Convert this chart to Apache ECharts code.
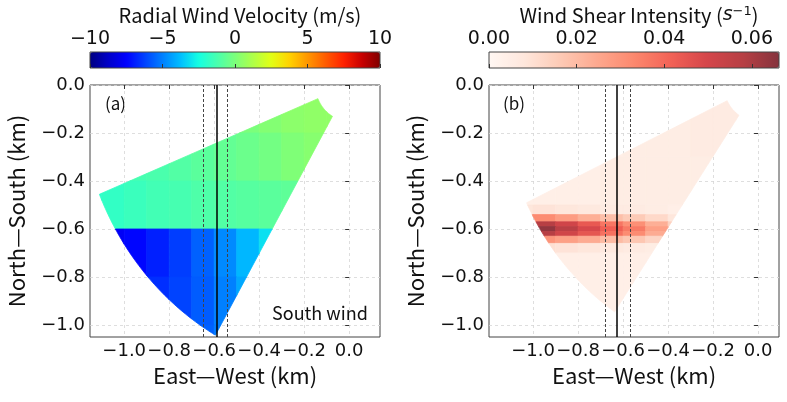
<!DOCTYPE html>
<html>
<head>
<meta charset="utf-8">
<script src="https://cdn.jsdelivr.net/npm/echarts@6/dist/echarts.min.js"></script>
<style>
html,body{margin:0;padding:0;background:#fff;}
#chart{width:787px;height:402px;}
</style>
</head>
<body>
<div id="chart"></div>
<script>
// radar scan sectors (km, degrees)
var sectorA = {az0: 202.3, az1: 240.3, r0: 0.15, r1: 1.2};
var sectorB = {az0: 205.5, az1: 236.0, r0: 0.152, r1: 1.14};

// cell edges of the value tables
var xEdges = [-1.2, -1.1, -1.0, -0.9, -0.8, -0.7, -0.6, -0.5, -0.4, -0.3, -0.2, -0.1, 0.0];
var yEdgesA = [0, -0.2, -0.4, -0.6, -0.8, -1.0, -1.2];
var yEdgesB = [0, -0.3, -0.5, -0.54, -0.57, -0.59, -0.61, -0.63, -0.66, -0.7, -1.2];

// radial wind velocity (m/s), one row per y band, one column per x band
var velocityA = [
    [null, null, null, null, null, null, -0.2, 0.0, 0.2, 0.4, 0.5, 0.5],
    [null, null, -1.3, -1.2, -1.0, -0.8, -0.6, -0.4, -0.2, 0.1, 0.3, null],
    [-1.9, -1.8, -1.6, -1.4, -1.3, -1.1, -1.0, -0.9, -0.8, -0.7, null, null],
    [null, -7.7, -7.4, -6.9, -6.3, -5.6, -4.8, -3.9, -3.1, null, null, null],
    [null, null, -6.9, -6.6, -6.2, -5.7, -5.0, -4.2, null, null, null, null],
    [null, null, null, null, null, -5.6, -5.1, null, null, null, null, null]
];

// wind shear intensity (1/s)
var shearB = [
    [null, null, null, null, null, 0.004, 0.005, 0.005, 0.005, 0.006, 0.006, 0.006],
    [null, 0.004, 0.004, 0.004, 0.004, 0.005, 0.005, 0.005, 0.005, 0.005, null, null],
    [null, 0.008, 0.009, 0.008, 0.007, 0.006, 0.006, 0.005, 0.004, null, null, null],
    [null, 0.028, 0.032, 0.028, 0.023, 0.019, 0.016, 0.012, 0.008, null, null, null],
    [null, 0.050, 0.058, 0.051, 0.044, 0.037, 0.031, 0.023, 0.014, null, null, null],
    [null, 0.055, 0.064, 0.057, 0.049, 0.042, 0.036, 0.027, 0.016, null, null, null],
    [null, null, 0.058, 0.051, 0.045, 0.038, 0.032, 0.024, 0.014, null, null, null],
    [null, null, 0.030, 0.027, 0.024, 0.020, 0.017, 0.013, 0.008, null, null, null],
    [null, null, 0.010, 0.009, 0.008, 0.007, 0.006, 0.005, null, null, null, null],
    [null, null, 0.004, 0.004, 0.004, 0.004, 0.004, 0.004, null, null, null, null]
];

// vertical guide lines (km): dashed, solid, dashed
var guideA = [-0.647, -0.595, -0.539];
var guideB = [-0.681, -0.627, -0.569];

var kmTicksX = [-1.0, -0.8, -0.6, -0.4, -0.2, 0.0];
var kmTicksY = [0.0, -0.2, -0.4, -0.6, -0.8, -1.0];
var velTicks = [-10, -5, 0, 5, 10];
var shearTicks = [0, 0.02, 0.04, 0.06];

var jet = ['#000080', '#0000c8', '#0000ff', '#0040ff', '#0080ff', '#00bfff', '#15ffe2', '#48ffaf',
    '#7bff7b', '#afff48', '#e2ff15', '#ffd200', '#ff9700', '#ff5c00', '#ff2100', '#c80000', '#800000'];
// Reds at alpha 0.8 on white
var reds = ['#fff7f3', '#fee6db', '#fdc9b4', '#fda88e', '#fc886e', '#f26256', '#d5464a', '#b73f44', '#85333d'];

var chart = echarts.init(document.getElementById('chart'));

function fanPolygon(s) {
    var pts = [], n = 60, i, a;
    for (i = 0; i <= n; i++) {
        a = (s.az0 + (s.az1 - s.az0) * i / n) * Math.PI / 180;
        pts.push([s.r1 * Math.cos(a), s.r1 * Math.sin(a)]);
    }
    for (i = n; i >= 0; i--) {
        a = (s.az0 + (s.az1 - s.az0) * i / n) * Math.PI / 180;
        pts.push([s.r0 * Math.cos(a), s.r0 * Math.sin(a)]);
    }
    return pts;
}

// one Sutherland-Hodgman pass against an axis-aligned half plane
function clipHalf(poly, k, v, keepAbove) {
    var out = [];
    for (var i = 0; i < poly.length; i++) {
        var a = poly[i], b = poly[(i + 1) % poly.length];
        var ina = keepAbove ? a[k] >= v : a[k] <= v;
        var inb = keepAbove ? b[k] >= v : b[k] <= v;
        if (ina) out.push(a);
        if (ina !== inb) {
            var t = (v - a[k]) / (b[k] - a[k]);
            out.push([a[0] + t * (b[0] - a[0]), a[1] + t * (b[1] - a[1])]);
        }
    }
    return out;
}

function clipBox(poly, x0, x1, y0, y1) {
    poly = clipHalf(poly, 0, Math.min(x0, x1), true);
    if (poly.length) poly = clipHalf(poly, 0, Math.max(x0, x1), false);
    if (poly.length) poly = clipHalf(poly, 1, Math.min(y0, y1), true);
    if (poly.length) poly = clipHalf(poly, 1, Math.max(y0, y1), false);
    return poly;
}

function cells(table, yEdges) {
    var out = [];
    for (var r = 0; r < table.length; r++) {
        for (var c = 0; c < table[r].length; c++) {
            if (table[r][c] == null) continue;
            out.push([xEdges[c], xEdges[c + 1], yEdges[r + 1], yEdges[r], table[r][c]]);
        }
    }
    return out;
}

function cellRenderer(fan) {
    return function (params, api) {
        var poly = clipBox(fan, api.value(0), api.value(1), api.value(2), api.value(3));
        if (poly.length < 3) return;
        var pts = poly.map(function (p) { return api.coord(p); });
        var col = api.visual('color');
        return {type: 'polygon', shape: {points: pts}, style: {fill: col, stroke: col, lineWidth: 0.8}};
    };
}

function kmLabel(v) {
    if (Math.abs(v) < 1e-9) return '0.0';
    return (v < 0 ? '\u2212' : '') + Math.abs(v).toFixed(1);
}

var tickFont = {fontFamily: 'DejaVu Sans', fontSize: 18, color: '#111',
    showMinLabel: true, showMaxLabel: true, hideOverlap: false};
var nameFont = {fontFamily: 'Noto Sans CJK SC', fontSize: 22, color: '#111'};

function kmAxisX(grid, min, max) {
    return {
        type: 'value', gridIndex: grid, min: min, max: max,
        splitNumber: 6, minInterval: 0.2, maxInterval: 0.2,
        name: 'East\u2014West (km)', nameLocation: 'middle', nameGap: 15, nameTextStyle: nameFont,
        axisLine: {show: false},
        axisTick: {show: true, length: 4, customValues: kmTicksX, lineStyle: {color: '#333'}},
        axisLabel: Object.assign({margin: 5, customValues: kmTicksX, formatter: kmLabel}, tickFont),
        splitLine: {show: true, lineStyle: {color: '#d6d6d6', width: 0.8, type: [3, 3]}}
    };
}

function kmAxisY(grid) {
    return {
        type: 'value', gridIndex: grid, min: -1.05, max: 0.0,
        splitNumber: 5, minInterval: 0.2, maxInterval: 0.2,
        name: 'North\u2014South (km)', nameLocation: 'middle', nameGap: 62, nameTextStyle: nameFont,
        axisLine: {show: false},
        axisTick: {show: true, length: 4, customValues: kmTicksY, lineStyle: {color: '#333'}},
        axisLabel: Object.assign({margin: 5, customValues: kmTicksY, formatter: kmLabel}, tickFont),
        splitLine: {show: true, lineStyle: {color: '#d6d6d6', width: 0.8, type: [3, 3]}}
    };
}

function guideLines(vals) {
    return vals.map(function (v, i) {
        return {
            xAxis: v,
            lineStyle: i === 1 ? {color: '#000', width: 1.5, type: 'solid'} : {color: '#444', width: 1, type: [3, 2]}
        };
    });
}

var option = {
    animation: false,
    backgroundColor: '#fff',
    grid: [
        {left: 90, top: 85, width: 290, height: 252, show: true, borderColor: '#444', borderWidth: 1},
        {left: 489, top: 85, width: 290, height: 252, show: true, borderColor: '#444', borderWidth: 1},
        {left: 90, top: 52, width: 290, height: 16, show: true, borderColor: '#444', borderWidth: 1, z: 10},
        {left: 489, top: 52, width: 290, height: 16, show: true, borderColor: '#444', borderWidth: 1, z: 10}
    ],
    xAxis: [
        kmAxisX(0, -1.152, 0.137),
        kmAxisX(1, -1.196, 0.093),
        {
            type: 'value', gridIndex: 2, position: 'top', min: -10, max: 10, interval: 5, z: 10,
            axisLine: {show: false}, splitLine: {show: false},
            axisTick: {show: true, length: 4, customValues: velTicks, lineStyle: {color: '#333'}},
            axisLabel: Object.assign({margin: 3, customValues: velTicks, formatter: function (v) {
                return (v < 0 ? '\u2212' : '') + Math.abs(v);
            }}, tickFont, {fontSize: 19})
        },
        {
            type: 'value', gridIndex: 3, position: 'top', min: 0, max: 0.0662, interval: 0.02, z: 10,
            axisLine: {show: false}, splitLine: {show: false},
            axisTick: {show: true, length: 4, customValues: shearTicks, lineStyle: {color: '#333'}},
            axisLabel: Object.assign({margin: 3, customValues: shearTicks, formatter: function (v) {
                return v.toFixed(2);
            }}, tickFont, {fontSize: 19})
        }
    ],
    yAxis: [
        kmAxisY(0),
        kmAxisY(1),
        {type: 'value', gridIndex: 2, min: 0, max: 1, show: false},
        {type: 'value', gridIndex: 3, min: 0, max: 1, show: false}
    ],
    visualMap: [
        {
            type: 'continuous', seriesIndex: 0, dimension: 4, min: -10, max: 10,
            orient: 'horizontal', left: 90, top: 52, itemWidth: 16, itemHeight: 290,
            padding: 0, calculable: false, hoverLink: false, inRange: {color: jet}
        },
        {
            type: 'continuous', seriesIndex: 1, dimension: 4, min: 0, max: 0.0662,
            orient: 'horizontal', left: 489, top: 52, itemWidth: 16, itemHeight: 290,
            padding: 0, calculable: false, hoverLink: false, inRange: {color: reds}
        }
    ],
    title: [
        {text: 'Radial Wind Velocity (m/s)', left: 235, top: 0, textAlign: 'center',
            textStyle: {fontFamily: 'Noto Sans CJK SC', fontSize: 20, fontWeight: 'normal', color: '#111'}},
        {text: 'Wind Shear Intensity ({i|s}{sup|\u22121})', left: 634, top: 0, textAlign: 'center',
            textStyle: {fontFamily: 'Noto Sans CJK SC', fontSize: 20, fontWeight: 'normal', color: '#111',
                rich: {
                    i: {fontFamily: 'DejaVu Sans', fontStyle: 'italic', fontSize: 19, color: '#111'},
                    sup: {fontFamily: 'DejaVu Sans', fontSize: 13, color: '#111', verticalAlign: 'top', padding: [0, 0, 8, 0]}
                }}}
    ],
    graphic: [
        {type: 'text', left: 105, top: 95, style: {text: '(a)', fontFamily: 'Noto Sans CJK SC', fontSize: 17, fill: '#111'}},
        {type: 'text', left: 503, top: 95, style: {text: '(b)', fontFamily: 'Noto Sans CJK SC', fontSize: 17, fill: '#111'}},
        {type: 'text', left: 272, top: 304, style: {text: 'South wind', fontFamily: 'Noto Sans CJK SC', fontSize: 18, fill: '#111'}}
    ],
    series: [
        {
            type: 'custom', xAxisIndex: 0, yAxisIndex: 0, clip: true, silent: true,
            encode: {x: [0, 1], y: [2, 3]},
            renderItem: cellRenderer(fanPolygon(sectorA)),
            data: cells(velocityA, yEdgesA)
        },
        {
            type: 'custom', xAxisIndex: 1, yAxisIndex: 1, clip: true, silent: true,
            encode: {x: [0, 1], y: [2, 3]},
            renderItem: cellRenderer(fanPolygon(sectorB)),
            data: cells(shearB, yEdgesB)
        },
        {
            type: 'line', xAxisIndex: 0, yAxisIndex: 0, data: [], z: 5,
            markLine: {silent: true, symbol: 'none', label: {show: false}, animation: false, data: guideLines(guideA)}
        },
        {
            type: 'line', xAxisIndex: 1, yAxisIndex: 1, data: [], z: 5,
            markLine: {silent: true, symbol: 'none', label: {show: false}, animation: false, data: guideLines(guideB)}
        }
    ]
};

chart.setOption(option);
</script>
</body>
</html>
